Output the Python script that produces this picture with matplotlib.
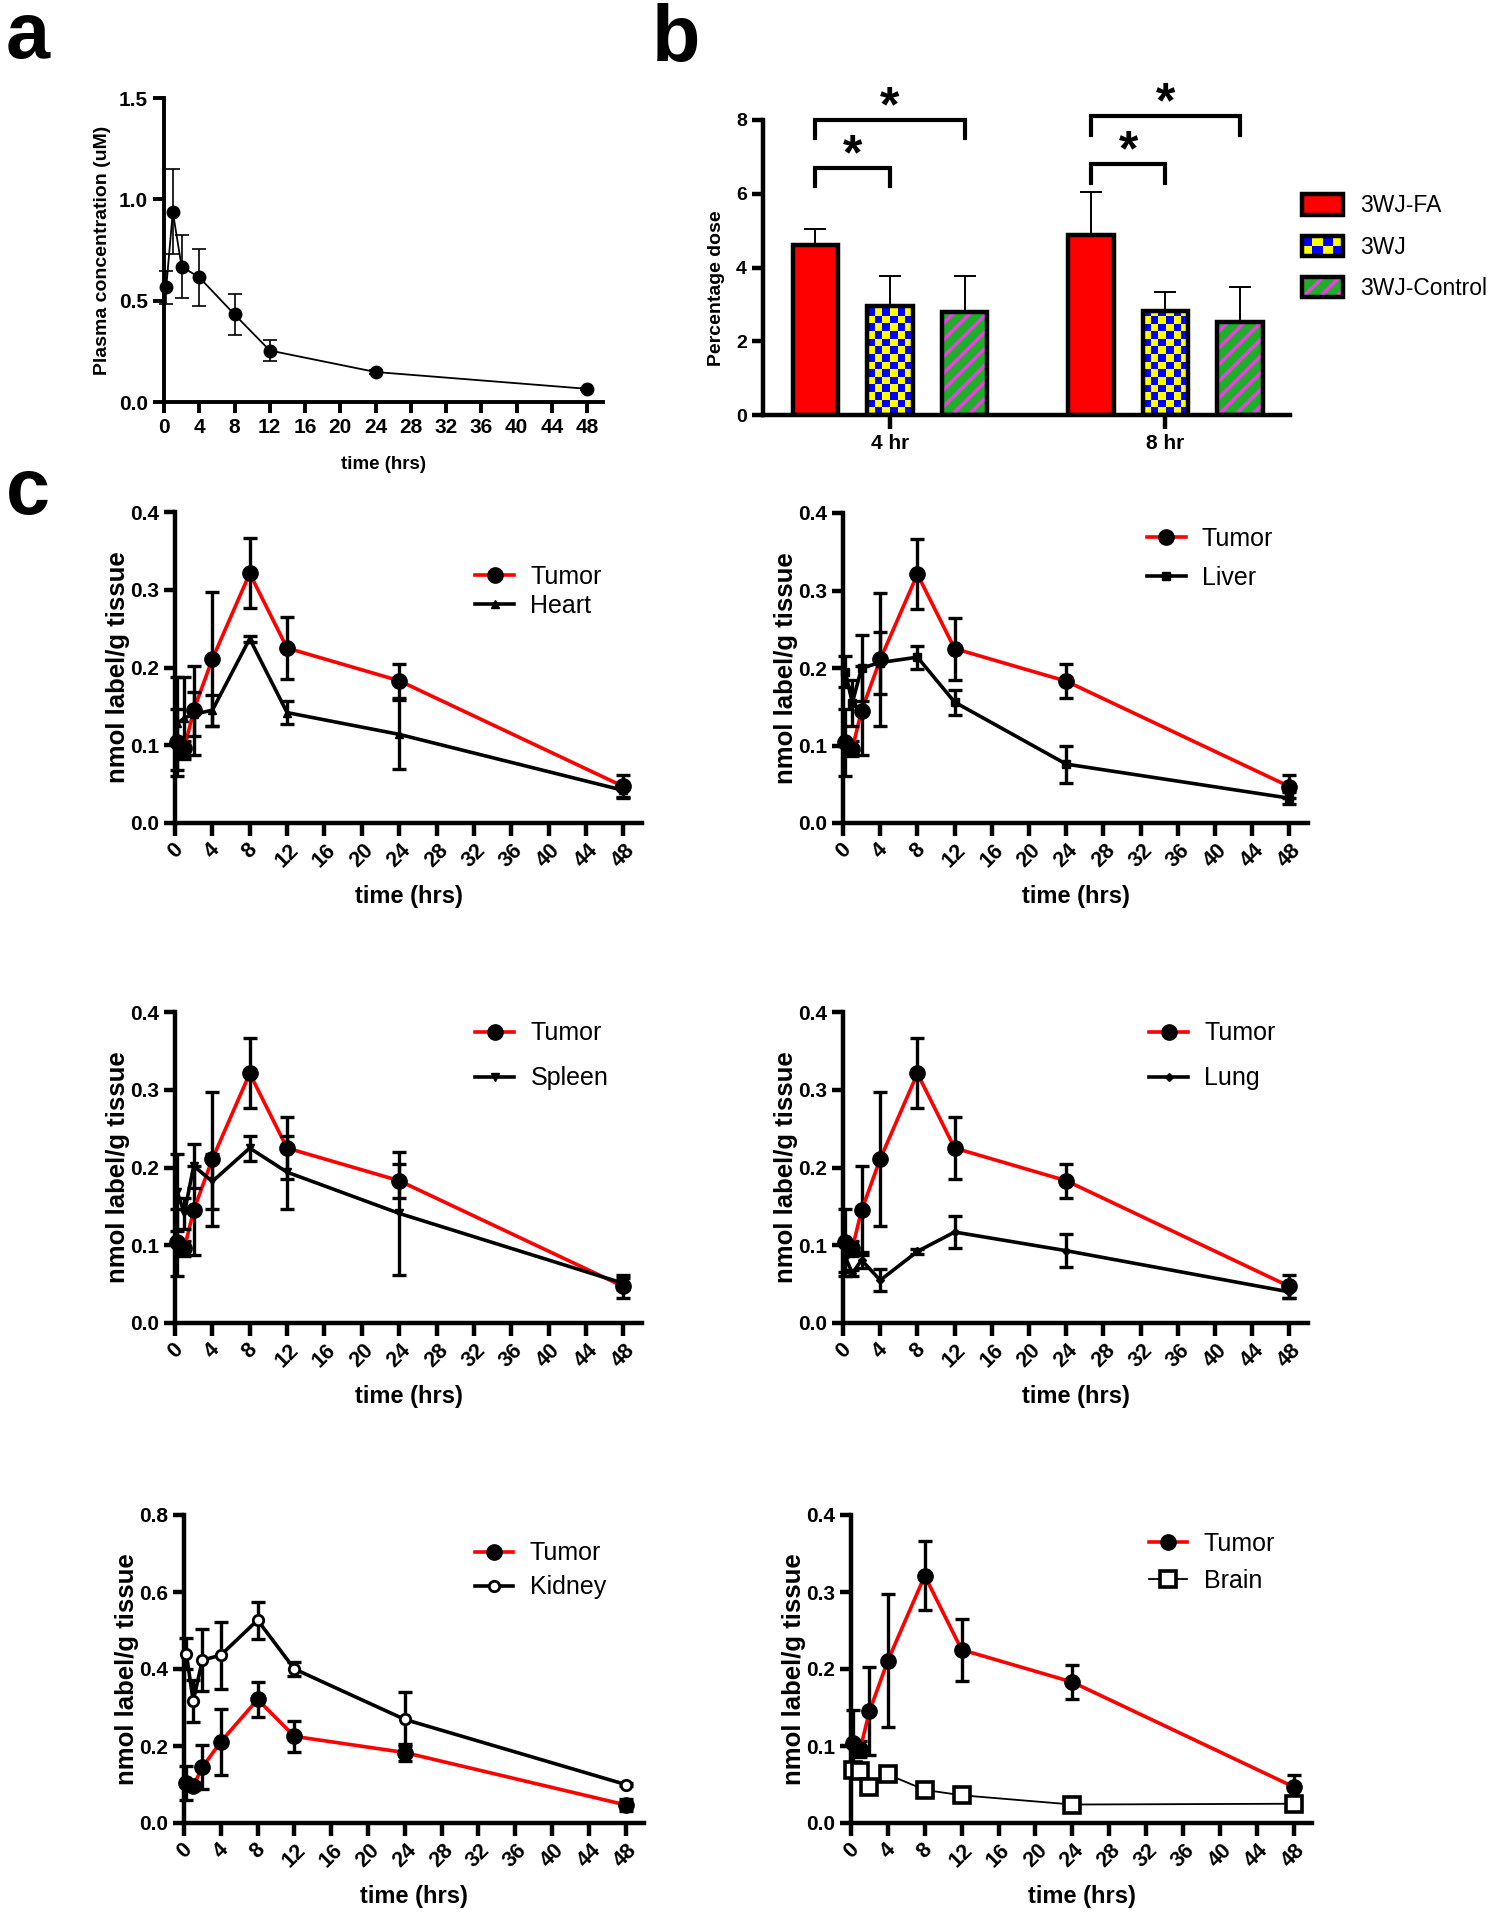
import math
import matplotlib
matplotlib.use('Agg')
import matplotlib.pyplot as plt
import numpy as np
from matplotlib.patches import Rectangle, Patch
from matplotlib.legend_handler import HandlerBase
from matplotlib.colors import ListedColormap

plt.rcParams['font.family'] = ['Liberation Sans', 'DejaVu Sans']
plt.rcParams['hatch.linewidth'] = 2.5

# ---- data ----
time_pts = [0.25, 1, 2, 4, 8, 12, 24, 48]

# panel a: plasma
plasma_mean = [0.565, 0.938, 0.668, 0.615, 0.432, 0.254, 0.148, 0.065]
plasma_err = [0.08, 0.21, 0.155, 0.14, 0.10, 0.05, 0.01, 0.005]

# panel b: percentage dose
groups = ['4 hr', '8 hr']
fa_mean = [4.60, 4.88]
fa_err = [0.45, 1.18]
wj_mean = [2.96, 2.83]
wj_err = [0.80, 0.51]
ctrl_mean = [2.80, 2.53]
ctrl_err = [0.97, 0.93]
series_b = ['3WJ-FA', '3WJ', '3WJ-Control']
bracket_short = [6.70, 6.80]
bracket_long = [8.00, 8.10]

# panel c: biodistribution
tumor_mean = [0.104, 0.096, 0.145, 0.211, 0.321, 0.225, 0.183, 0.047]
tumor_err = [0.043, 0.010, 0.057, 0.086, 0.045, 0.040, 0.022, 0.015]
heart_mean = [0.128, 0.135, 0.140, 0.145, 0.237, 0.142, 0.114, 0.042]
heart_err = [0.060, 0.053, 0.028, 0.020, 0.004, 0.015, 0.044, 0.008]
liver_mean = [0.195, 0.155, 0.200, 0.207, 0.214, 0.156, 0.076, 0.032]
liver_err = [0.020, 0.030, 0.042, 0.040, 0.015, 0.016, 0.024, 0.008]
spleen_mean = [0.168, 0.141, 0.202, 0.182, 0.225, 0.194, 0.141, 0.051]
spleen_err = [0.050, 0.020, 0.028, 0.036, 0.016, 0.047, 0.079, 0.007]
lung_mean = [0.085, 0.064, 0.081, 0.055, 0.092, 0.117, 0.093, 0.040]
lung_err = [0.020, 0.004, 0.010, 0.014, 0.003, 0.021, 0.021, 0.008]
kidney_mean = [0.440, 0.317, 0.423, 0.436, 0.527, 0.400, 0.269, 0.100]
kidney_err = [0.040, 0.055, 0.080, 0.087, 0.048, 0.017, 0.070, 0.004]
brain_mean = [0.069, 0.068, 0.047, 0.063, 0.043, 0.036, 0.024, 0.025]
brain_err = [0.008, 0.006, 0.004, 0.006, 0.004, 0.003, 0.003, 0.004]

RED = '#ff0000'
YELLOW = '#ffff00'
BLUE = '#0000ff'
GREEN = '#1fae2a'
MAGENTA = '#ee3ee8'

W, H = 1499, 1920
fig = plt.figure(figsize=(W / 100, H / 100), dpi=100)


def rect(l, t, r, b):
    # pixel box -> figure fraction
    return [l / W, 1 - b / H, (r - l) / W, (b - t) / H]


def prism_axes(ax, lw=3):
    ax.spines['top'].set_visible(False)
    ax.spines['right'].set_visible(False)
    ax.spines['left'].set_linewidth(lw)
    ax.spines['bottom'].set_linewidth(lw)
    ax.tick_params(width=lw, length=8, direction='out')


# ---------------- panel a ----------------
ax_a = fig.add_axes(rect(164, 98, 603, 402))
prism_axes(ax_a, lw=2.8)
ax_a.errorbar(time_pts, plasma_mean, yerr=plasma_err, fmt='-o', color='k', lw=1.3, ms=9,
              elinewidth=1.2, capsize=5, capthick=1.2, clip_on=False, zorder=3)
ax_a.set_xlim(0, 49.8)
ax_a.set_ylim(0, 1.5)
ax_a.set_xticks(range(0, 49, 4), labels=[str(t) for t in range(0, 49, 4)],
                fontsize=15, fontweight='bold')
ax_a.set_yticks([0, 0.5, 1.0, 1.5], labels=['0.0', '0.5', '1.0', '1.5'],
                fontsize=15, fontweight='bold')
ax_a.set_ylabel('Plasma concentration (uM)', fontsize=14, fontweight='bold', labelpad=6)
ax_a.set_xlabel('time (hrs)', fontsize=13.5, fontweight='bold', labelpad=14)

# ---------------- panel b ----------------
ax_b = fig.add_axes(rect(763, 120, 1290, 415))
prism_axes(ax_b, lw=3.2)
xg = np.arange(len(groups))
offs = 0.271
bw = 0.165
ax_b.set_xlim(-0.461, 1.452)
ax_b.set_ylim(0, 8)

for pos, mean, err in [(xg - offs, fa_mean, fa_err), (xg, wj_mean, wj_err), (xg + offs, ctrl_mean, ctrl_err)]:
    ax_b.errorbar(pos, mean, yerr=[np.zeros(len(mean)), err], fmt='none', ecolor='k',
                  elinewidth=1.4, capsize=8, capthick=1.4, zorder=1)

ax_b.bar(xg - offs, fa_mean, bw, color=RED, edgecolor='k', lw=3.2, zorder=2)
bars_wj = ax_b.bar(xg, wj_mean, bw, color=YELLOW, edgecolor='none', lw=0, zorder=2)
ax_b.bar(xg + offs, ctrl_mean, bw, color=GREEN, edgecolor=MAGENTA, hatch='//', lw=0, zorder=2)

# checkerboard inside the 3WJ bars
checker_cmap = ListedColormap([YELLOW, BLUE])
px = ax_b.transData.transform([(0, 0), (1, 1)])
px_x = px[1, 0] - px[0, 0]
px_y = px[1, 1] - px[0, 1]
for bar in bars_wj:
    n_cols = 6
    cw = bar.get_width() / n_cols
    ch = cw * px_x / px_y
    n_rows = int(math.ceil(bar.get_height() / ch))
    board = np.indices((n_rows, n_cols)).sum(axis=0) % 2
    im = ax_b.imshow(board, cmap=checker_cmap, origin='lower', interpolation='nearest', aspect='auto',
                     extent=(bar.get_x(), bar.get_x() + bar.get_width(), 0, n_rows * ch), zorder=2.5)
    im.set_clip_path(bar)

ax_b.bar(xg, wj_mean, bw, fill=False, edgecolor='k', lw=3.2, zorder=4)
ax_b.bar(xg + offs, ctrl_mean, bw, fill=False, edgecolor='k', lw=3.2, zorder=4)
ax_b.set_xlim(-0.461, 1.452)
ax_b.set_ylim(0, 8)

# significance brackets
for g in range(len(groups)):
    x1 = xg[g] - offs
    for x2, h in [(xg[g], bracket_short[g]), (xg[g] + offs, bracket_long[g])]:
        ax_b.plot([x1, x1, x2, x2], [h - 0.5, h, h, h - 0.5], color='k', lw=3, clip_on=False,
                  solid_joinstyle='miter')
        ax_b.text((x1 + x2) / 2, h - 0.3, '*', ha='center', va='bottom', fontsize=36,
                  fontweight='bold')

ax_b.set_xticks(xg, labels=groups, fontsize=15, fontweight='bold')
ax_b.set_yticks([0, 2, 4, 6, 8], labels=['0', '2', '4', '6', '8'], fontsize=14, fontweight='bold')
ax_b.tick_params(axis='x', length=10)
ax_b.set_ylabel('Percentage dose', fontsize=14, fontweight='bold')
ax_b.yaxis.set_label_coords(-0.072, 0.43)


class CheckerHandler(HandlerBase):
    def create_artists(self, legend, orig_handle, xdescent, ydescent, width, height, fontsize, trans):
        x0, y0 = -xdescent, -ydescent
        arts = [Rectangle((x0, y0), width, height, facecolor=YELLOW, edgecolor='none', transform=trans)]
        nx, ny = 4, 2
        for i in range(nx):
            for j in range(ny):
                if (i + j) % 2:
                    arts.append(Rectangle((x0 + i * width / nx, y0 + j * height / ny), width / nx, height / ny,
                                          facecolor=BLUE, edgecolor='none', transform=trans))
        arts.append(Rectangle((x0, y0), width, height, facecolor='none', edgecolor='k', lw=3.2,
                              transform=trans))
        return arts


class StripeHandler(HandlerBase):
    def create_artists(self, legend, orig_handle, xdescent, ydescent, width, height, fontsize, trans):
        x0, y0 = -xdescent, -ydescent
        return [Rectangle((x0, y0), width, height, facecolor=GREEN, edgecolor=MAGENTA, hatch='//', lw=0,
                          transform=trans),
                Rectangle((x0, y0), width, height, facecolor='none', edgecolor='k', lw=3.2, transform=trans)]


h_fa = Patch(facecolor=RED, edgecolor='k', lw=3.2)
h_wj = Patch(facecolor=YELLOW)
h_ct = Patch(facecolor=GREEN)
ax_b.legend([h_fa, h_wj, h_ct], series_b, handler_map={h_wj: CheckerHandler(), h_ct: StripeHandler()},
            loc='upper left', bbox_to_anchor=(1.023, 0.748), frameon=False, fontsize=16.5,
            handlelength=1.8, handleheight=1.0, handletextpad=0.75, labelspacing=0.79, borderpad=0,
            borderaxespad=0)

# ---------------- panel c ----------------
organs = [
    ('Heart', heart_mean, heart_err, dict(marker='^', ms=6, mfc='k', lw=2.6), 0.4,
     (175, 512, 642, 823), (0.63, 0.85), 0.2),
    ('Liver', liver_mean, liver_err, dict(marker='s', ms=6, mfc='k', lw=2.6), 0.4,
     (843, 513, 1308, 823), (0.64, 0.975), 0.6),
    ('Spleen', spleen_mean, spleen_err, dict(marker='v', ms=6, mfc='k', lw=2.6), 0.4,
     (175, 1012, 642, 1323), (0.63, 0.99), 0.84),
    ('Lung', lung_mean, lung_err, dict(marker='D', ms=4.5, mfc='k', lw=2.6), 0.4,
     (843, 1012, 1308, 1323), (0.645, 0.99), 0.84),
    ('Kidney', kidney_mean, kidney_err, dict(marker='o', ms=7.5, mfc='white', mew=2, lw=2.6), 0.8,
     (184, 1515, 644, 1823), (0.618, 0.935), 0.4),
    ('Brain', brain_mean, brain_err, dict(marker='s', ms=12, mfc='white', mew=2.6, lw=1.3), 0.4,
     (851, 1515, 1312, 1823), (0.632, 0.965), 0.52),
]

for name, mean, err, style, ymax, box, leg_pos, spacing in organs:
    ax = fig.add_axes(rect(*box))
    prism_axes(ax, lw=3.2)
    ax.errorbar(time_pts, tumor_mean, yerr=tumor_err, fmt='none', ecolor='k', elinewidth=2.4,
                capsize=5, capthick=2.4, clip_on=False, zorder=3)
    tumor_line, = ax.plot(time_pts, tumor_mean, color=RED, lw=2.6, marker='o', ms=11, mfc='k', mec='k',
                          clip_on=False, zorder=4, label='Tumor')
    ax.errorbar(time_pts, mean, yerr=err, fmt='none', ecolor='k', elinewidth=2.4,
                capsize=5, capthick=2.4, clip_on=False, zorder=5)
    organ_line, = ax.plot(time_pts, mean, color='k', mec='k', clip_on=False, zorder=6, label=name, **style)
    ax.set_xlim(0, 50)
    ax.set_ylim(0, ymax)
    xt = list(range(0, 49, 4))
    ax.set_xticks(xt, labels=[str(t) for t in xt], fontsize=15.5, fontweight='bold', rotation=45)
    yt = np.linspace(0, ymax, 5)
    ax.set_yticks(yt, labels=[f'{v:.1f}' for v in yt], fontsize=15, fontweight='bold')
    ax.tick_params(axis='x', length=9, pad=3)
    ax.set_xlabel('time (hrs)', fontsize=17, fontweight='bold', labelpad=10)
    ax.set_ylabel('nmol label/g tissue', fontsize=18.5, fontweight='bold', labelpad=0)
    ax.legend(handles=[tumor_line, organ_line], loc='upper left', bbox_to_anchor=leg_pos, frameon=False,
              fontsize=18, handlelength=1.55, handletextpad=0.65, labelspacing=spacing, borderpad=0,
              borderaxespad=0.25)

# panel letters
fig.text(6 / W, 1 - 58 / H, 'a', fontsize=57, fontweight='bold', va='baseline')
fig.text(652 / W, 1 - 61 / H, 'b', fontsize=57, fontweight='bold', va='baseline')
fig.text(6 / W, 1 - 514 / H, 'c', fontsize=57, fontweight='bold', va='baseline')

fig.savefig('out.png', dpi=100)
